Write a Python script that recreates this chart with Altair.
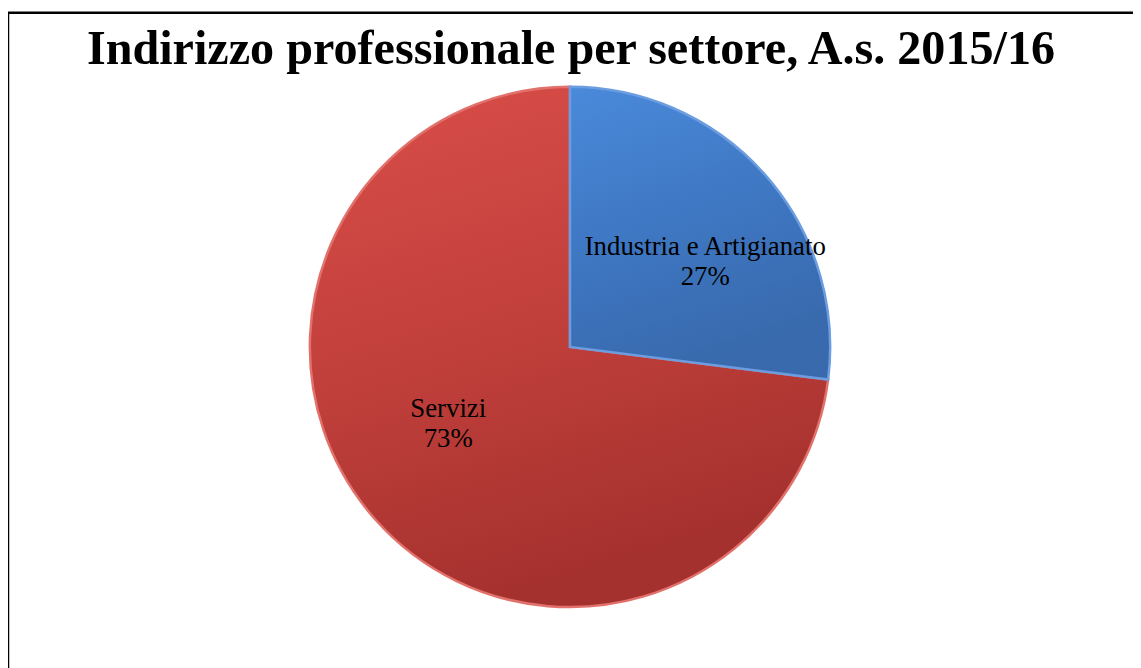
import altair as alt
import pandas as pd

categories = ["Industria e Artigianato", "Servizi"]
values = [27, 73]
labels = ["27%", "73%"]
title_text = "Indirizzo professionale per settore, A.s. 2015/16"

df = pd.DataFrame({"cat": categories, "val": values, "pct": labels, "order": [0, 1]})

W, H = 1133, 660
CX, CY, R = 566, 339, 262
TWO_PI = 6.283185307
ROT = 0.16  # label placement offset (best-fit style)

blue_grad = alt.Gradient(gradient="linear", x1=0, y1=0, x2=0.3, y2=1,
                         stops=[alt.GradientStop(color="#4a8ada", offset=0),
                                alt.GradientStop(color="#3f78c4", offset=0.5),
                                alt.GradientStop(color="#386aad", offset=1)])
red_grad = alt.Gradient(gradient="linear", x1=0, y1=0, x2=0.3, y2=1,
                        stops=[alt.GradientStop(color="#da4e49", offset=0),
                               alt.GradientStop(color="#c03f3b", offset=0.55),
                               alt.GradientStop(color="#a5312e", offset=1)])

base = alt.Chart(df).transform_window(
    end="sum(val)", sort=[alt.SortField("order")], frame=[None, 0]
).transform_calculate(
    start="datum.end - datum.val",
    mid="datum.end - datum.val / 2",
    r="datum.order == 0 ? 161 : 145",
)

theta_scale = alt.Scale(domain=[0, 100], range=[0, TWO_PI])
label_scale = alt.Scale(domain=[0, 100], range=[ROT, TWO_PI + ROT])


def slice_layer(idx, fill, stroke):
    return base.transform_filter(alt.datum.order == idx).mark_arc(
        outerRadius=R, fill=fill, stroke=stroke, strokeWidth=2.5
    ).encode(
        theta=alt.Theta("start:Q", scale=theta_scale),
        theta2="end:Q",
        x=alt.value(CX), y=alt.value(CY),
    )


blue = slice_layer(0, blue_grad, "#6c9de0")
red = slice_layer(1, red_grad, "#e2716c")


def label_layer(field, dy):
    return base.mark_text(
        font="Liberation Serif", fontSize=27, color="#000000", dy=dy
    ).encode(
        theta=alt.Theta("mid:Q", scale=label_scale, stack=None),
        radius=alt.Radius("r:Q", scale=None),
        text=f"{field}:N",
        x=alt.value(CX), y=alt.value(CY),
    )


name_txt = label_layer("cat", -15)
pct_txt = label_layer("pct", 15)

frame = alt.Chart(pd.DataFrame({"k": [0]})).mark_rect(
    fill=None, stroke="#000000", strokeWidth=2.5
).encode(x=alt.value(0), y=alt.value(2.5), x2=alt.value(1250), y2=alt.value(800))

title = alt.Chart(pd.DataFrame({"t": [title_text]})).mark_text(
    font="Liberation Serif", fontSize=48.5, fontWeight="bold", color="#000000",
    baseline="alphabetic", align="center"
).encode(x=alt.value(567), y=alt.value(54), text="t:N")

chart = alt.layer(frame, red, blue, name_txt, pct_txt, title).resolve_scale(
    theta="independent"
).properties(
    width=W, height=H, padding=0, autosize=alt.AutoSizeParams(type="none"),
    background="#ffffff"
).configure_view(stroke=None)

chart.save("out.html", embed_options={"renderer": "svg", "actions": False})
